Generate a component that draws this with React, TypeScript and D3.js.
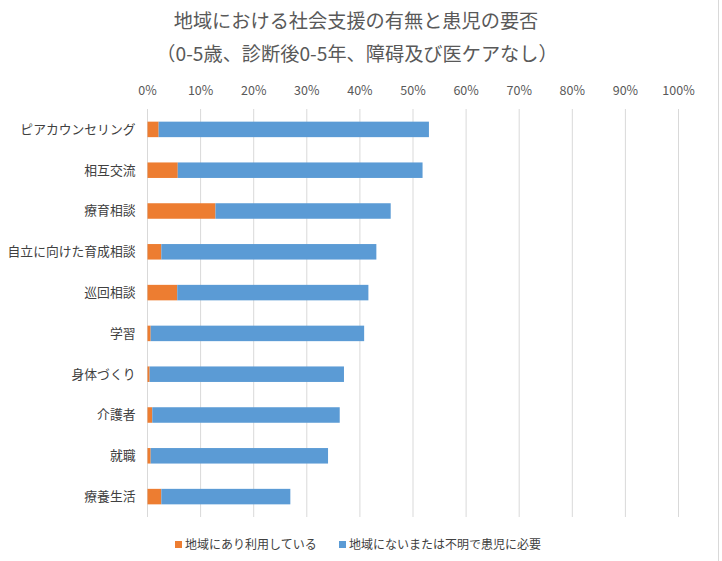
import React, { useRef, useEffect } from 'react';
import * as d3 from 'd3';

const categories = [
    'ピアカウンセリング',
    '相互交流',
    '療育相談',
    '自立に向けた育成相談',
    '巡回相談',
    '学習',
    '身体づくり',
    '介護者',
    '就職',
    '療養生活'
];

// 地域にあり利用している (%)
const usedValues = [2.1, 5.7, 12.8, 2.6, 5.6, 0.6, 0.4, 0.9, 0.6, 2.6];
// 地域にないまたは不明で患児に必要 (%)
const neededValues = [50.9, 46.1, 33.0, 40.5, 36.0, 40.2, 36.6, 35.3, 33.4, 24.3];

const seriesNames = ['地域にあり利用している', '地域にないまたは不明で患児に必要'];
const seriesColors = ['#ED7D31', '#5B9BD5'];

const xTicks = [0, 10, 20, 30, 40, 50, 60, 70, 80, 90, 100];

const W = 722;
const H = 561;
const FONT = '"Noto Sans CJK JP", "Noto Sans", sans-serif';

const App: React.FC = () => {
    const svgRef = useRef<SVGSVGElement | null>(null);

    useEffect(() => {
        const svg = d3.select(svgRef.current);
        svg.selectAll('*').remove();

        const margin = { top: 109, right: 43.5, bottom: 44, left: 147.5 };
        const innerW = W - margin.left - margin.right;
        const innerH = H - margin.top - margin.bottom;

        svg.append('rect').attr('width', W).attr('height', H).attr('fill', '#fff');
        svg.append('line')
            .attr('x1', 718.5).attr('x2', 718.5).attr('y1', 0).attr('y2', H)
            .attr('stroke', '#d9d9d9');

        // title
        const title = svg.append('g').attr('font-family', FONT).attr('fill', '#595959')
            .attr('text-anchor', 'middle').attr('font-size', 19.2);
        title.append('text').attr('x', 356).attr('y', 28).text('地域における社会支援の有無と患児の要否');
        title.append('text').attr('x', 357).attr('y', 61).text('（0-5歳、診断後0-5年、障碍及び医ケアなし）');

        const g = svg.append('g').attr('transform', `translate(${margin.left},${margin.top})`);

        const x = d3.scaleLinear().domain([0, 100]).range([0, innerW]);
        const y = d3.scaleBand<string>().domain(categories).range([0, innerH]).paddingInner(0.62).paddingOuter(0.31);

        // gridlines
        g.selectAll('line.grid')
            .data(xTicks)
            .enter().append('line')
            .attr('class', 'grid')
            .attr('x1', d => x(d)).attr('x2', d => x(d))
            .attr('y1', 0).attr('y2', innerH)
            .attr('stroke', '#d9d9d9').attr('stroke-width', 1);

        // top tick labels
        g.selectAll('text.tick')
            .data(xTicks)
            .enter().append('text')
            .attr('class', 'tick')
            .attr('x', d => x(d)).attr('y', -14)
            .attr('text-anchor', 'middle')
            .attr('font-family', FONT).attr('font-size', 12.5).attr('fill', '#595959')
            .text(d => `${d}%`);

        // stacked bars
        const rows = categories.map((c, i) => ({ cat: c, vals: [usedValues[i], neededValues[i]] }));
        const stack = d3.stack<any>().keys(['0', '1']).value((d, k) => d.vals[+k]);
        const stacked = stack(rows);

        stacked.forEach((layer, si) => {
            g.selectAll(`rect.s${si}`)
                .data(layer)
                .enter().append('rect')
                .attr('class', `s${si}`)
                .attr('x', d => x(d[0]))
                .attr('width', d => x(d[1]) - x(d[0]))
                .attr('y', d => y(d.data.cat) as number)
                .attr('height', y.bandwidth())
                .attr('fill', seriesColors[si]);
        });

        // category labels
        g.selectAll('text.cat')
            .data(categories)
            .enter().append('text')
            .attr('class', 'cat')
            .attr('x', -12)
            .attr('y', d => (y(d) as number) + y.bandwidth() / 2)
            .attr('dy', '0.35em')
            .attr('text-anchor', 'end')
            .attr('font-family', FONT).attr('font-size', 12.8).attr('fill', '#404040')
            .text(d => d);

        // legend
        const legendX = [175, 339];
        const legend = svg.append('g').attr('font-family', FONT).attr('font-size', 12).attr('fill', '#404040');
        seriesNames.forEach((name, i) => {
            legend.append('rect')
                .attr('x', legendX[i]).attr('y', 541).attr('width', 7).attr('height', 7)
                .attr('fill', seriesColors[i]);
            legend.append('text')
                .attr('x', legendX[i] + 10).attr('y', 545).attr('dy', '0.35em')
                .text(name);
        });
    }, []);

    return (
        <div style={{ position: 'absolute', left: 0, top: 0 }}>
            <svg ref={svgRef} width={W} height={H} style={{ display: 'block' }}></svg>
        </div>
    );
};

export default App;
